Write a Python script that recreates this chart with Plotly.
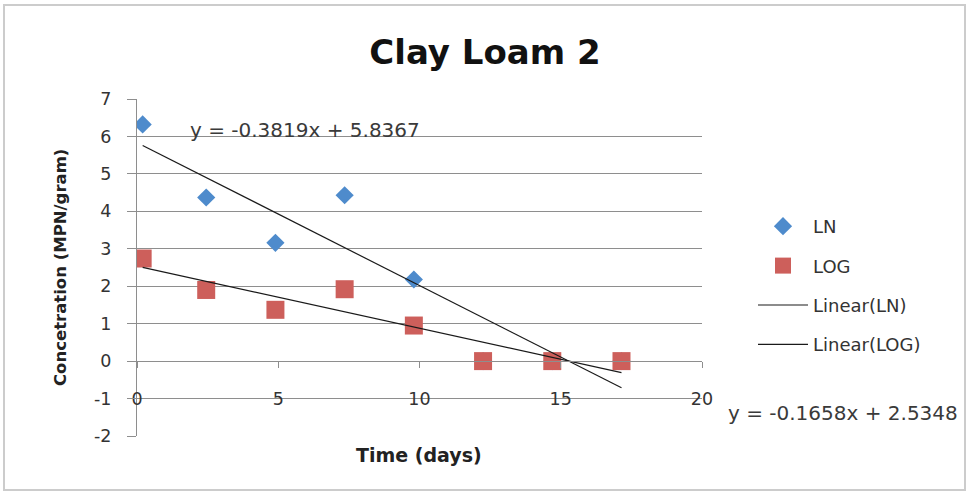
import plotly.graph_objects as go

# Sampling days and measured concentrations
days = [0.2, 2.45, 4.9, 7.35, 9.8, 12.25, 14.7, 17.15]
ln_vals = [6.32, 4.37, 3.16, 4.43, 2.18, 0, 0, 0]
log_vals = [2.74, 1.90, 1.37, 1.92, 0.95, 0, 0, 0]

# Linear trendline coefficients (slope, intercept)
ln_fit = [-0.3819, 5.8367]
log_fit = [-0.1658, 2.5348]

x_ticks = [0, 5, 10, 15, 20]
x_labels = ["0", "5", "10", "15", "20"]
y_ticks = [-2, -1, 0, 1, 2, 3, 4, 5, 6, 7]
y_labels = ["-2", "-1", "0", "1", "2", "3", "4", "5", "6", "7"]

W, H = 969, 492
L, R, T, B = 137, 267, 99, 56
FONT = "DejaVu Sans"
GRID = "#8e8e8e"

fit_x = [min(days), max(days)]
ln_line = [ln_fit[0] * x + ln_fit[1] for x in fit_x]
log_line = [log_fit[0] * x + log_fit[1] for x in fit_x]

fig = go.Figure()
fig.add_trace(go.Scatter(
    x=days, y=ln_vals, mode="markers", name="LN", legendgroup="a",
    marker=dict(symbol="diamond", size=14, color="#4e8bcc"),
))
fig.add_trace(go.Scatter(
    x=days, y=log_vals, mode="markers", name="LOG", legendgroup="b",
    marker=dict(symbol="square", size=18, color="#cd5f5b"),
))
fig.add_trace(go.Scatter(
    x=fit_x, y=ln_line, mode="lines", name="Linear(LN)", legendgroup="c",
    line=dict(color="#1a1a1a", width=1.2),
))
fig.add_trace(go.Scatter(
    x=fit_x, y=log_line, mode="lines", name="Linear(LOG)", legendgroup="d",
    line=dict(color="#1a1a1a", width=1.2),
))

pw = W - L - R
ph = H - T - B


def px_x(p):
    return (p - L) / pw


def px_y(p):
    return (H - B - p) / ph


def label(text, x, y, size, color, angle=0):
    return dict(text=text, x=px_x(x), y=px_y(y), xref="paper", yref="paper",
                xanchor="center", yanchor="middle", showarrow=False,
                textangle=angle, font=dict(family=FONT, size=size, color=color))


fig.update_layout(
    width=W, height=H,
    margin=dict(l=L, r=R, t=T, b=B),
    paper_bgcolor="white", plot_bgcolor="white",
    font=dict(family=FONT, size=17, color="#333333"),
    title=dict(
        text="<b>Clay Loam 2</b>", x=485 / W, xref="container", xanchor="center",
        y=1 - 52 / H, yref="container", yanchor="middle",
        font=dict(family=FONT, size=34, color="#111111"),
    ),
    xaxis=dict(
        range=[0, 20], tickvals=x_ticks, ticktext=x_labels,
        showgrid=False, zeroline=False,
        showline=True, linecolor=GRID, linewidth=1,
        ticks="outside", ticklen=6, tickcolor=GRID,
        anchor="free", position=2 / 9, ticklabelstandoff=16,
        tickfont=dict(size=17.5, color="#333333"),
    ),
    yaxis=dict(
        range=[-2, 7], tickvals=y_ticks, ticktext=y_labels,
        showgrid=True, gridcolor=GRID, gridwidth=1,
        zeroline=False, showline=True, linecolor=GRID, linewidth=1,
        ticks="outside", ticklen=9, tickcolor=GRID, ticklabelstandoff=12,
        tickfont=dict(size=17.5, color="#333333"),
    ),
    showlegend=True,
    legend=dict(
        x=px_x(753), xanchor="left", y=px_y(208), yanchor="top",
        traceorder="grouped", tracegroupgap=13, itemwidth=50,
        font=dict(family=FONT, size=18, color="#333333"),
        bgcolor="rgba(0,0,0,0)",
    ),
    annotations=[
        label("y = -0.3819x + 5.8367", 305, 130, 20, "#3a3a3a"),
        label("y = -0.1658x + 2.5348", 843, 413, 20, "#3a3a3a"),
        label("<b>Time (days)</b>", 419, 455, 19, "#222222"),
        label("<b>Concetration (MPN/gram)</b>", 60, 268, 16.5, "#222222", angle=-90),
    ],
    shapes=[
        dict(type="rect", xref="paper", yref="paper",
             x0=px_x(4), x1=px_x(965), y0=px_y(490), y1=px_y(5),
             line=dict(color="#cccccc", width=2), layer="below"),
    ],
)

fig.write_html("out.html")
